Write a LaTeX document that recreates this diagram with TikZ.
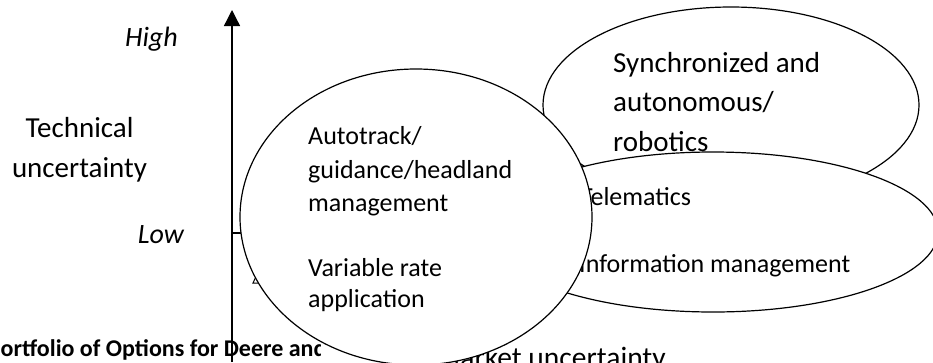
\documentclass[tikz,border=0pt]{standalone}
\usepackage{fontspec}
\setmainfont{Carlito}
\usetikzlibrary{arrows.meta}
\tikzset{
  bubble/.style={draw=black, line width=1.2pt, fill=white},
  lbl/.style={inner sep=0pt, font=\fontsize{28}{40}\selectfont},
  intext/.style={inner sep=0pt, anchor=base west, font=\fontsize{26}{32}\selectfont},
  bigtext/.style={inner sep=0pt, anchor=base west, font=\fontsize{29}{40}\selectfont},
  axis/.style={line width=1.3pt},
}
\begin{document}
\begin{tikzpicture}[x=1pt,y=-1pt]
\useasboundingbox (0,0) rectangle (933,362);

% axis labels
\node[lbl, anchor=base east, font=\fontsize{28}{40}\itshape] (high) at (178,46) {High};
\node[lbl, anchor=base east, font=\fontsize{28}{40}\itshape] (low) at (184,243) {Low};
\node[lbl, anchor=base, font=\fontsize{29}{40}\selectfont] (tech) at (79.5,137) {Technical};
\node[lbl, anchor=base, font=\fontsize{29}{40}\selectfont] (tech2) at (79.5,177) {uncertainty};
\node[lbl, anchor=base west, font=\fontsize{29.5}{40}\selectfont] (market) at (435,367) {Market uncertainty};
\begin{scope}
  \clip (0,300) rectangle (320,362);
  \node[inner sep=0pt, anchor=base west, font=\fontsize{24}{30}\bfseries] (caption) at (0.5,356) {ortfolio of Options for Deere and};
\end{scope}

% axes
\coordinate (origin) at (232,233);
\coordinate (ybot) at (232,362);
\coordinate (ytop) at (232,10);
\coordinate (xend) at (520,233);
\draw[axis, -{Triangle[width=16pt,length=16pt]}] (ybot) -- (ytop);
\draw[axis] (origin) -- (xend);
\coordinate (tri1) at (253,283);
\coordinate (tri2) at (266,283);
\coordinate (tri3) at (260,268);
\draw[line width=1pt] (tri1) -- (tri2) -- (tri3) -- cycle;

% upper right bubble
\coordinate (robot) at (731,105);
\path[bubble] (robot) ellipse [x radius=188pt, y radius=98pt];
\node[bigtext] (r1) at (613,72) {Synchronized and};
\node[bigtext] (r2) at (613,111) {autonomous/};
\node[bigtext] (r3) at (613,151) {robotics};

% lower right bubble
\coordinate (info) at (713,232);
\path[bubble] (info) ellipse [x radius=225pt, y radius=80pt];
\node[intext] (i1) at (580,205) {Telematics};
\node[intext] (i2) at (579,272) {Information management};

% large left bubble
\coordinate (guide) at (416,217);
\path[bubble] (guide) ellipse [x radius=176pt, y radius=148pt];
\node[intext] (g1) at (308,144) {Autotrack/};
\node[intext] (g2) at (308,178) {guidance/headland};
\node[intext] (g3) at (308,211) {management};
\node[intext] (g4) at (308,276) {Variable rate};
\node[intext] (g5) at (308,307) {application};
\end{tikzpicture}
\end{document}
